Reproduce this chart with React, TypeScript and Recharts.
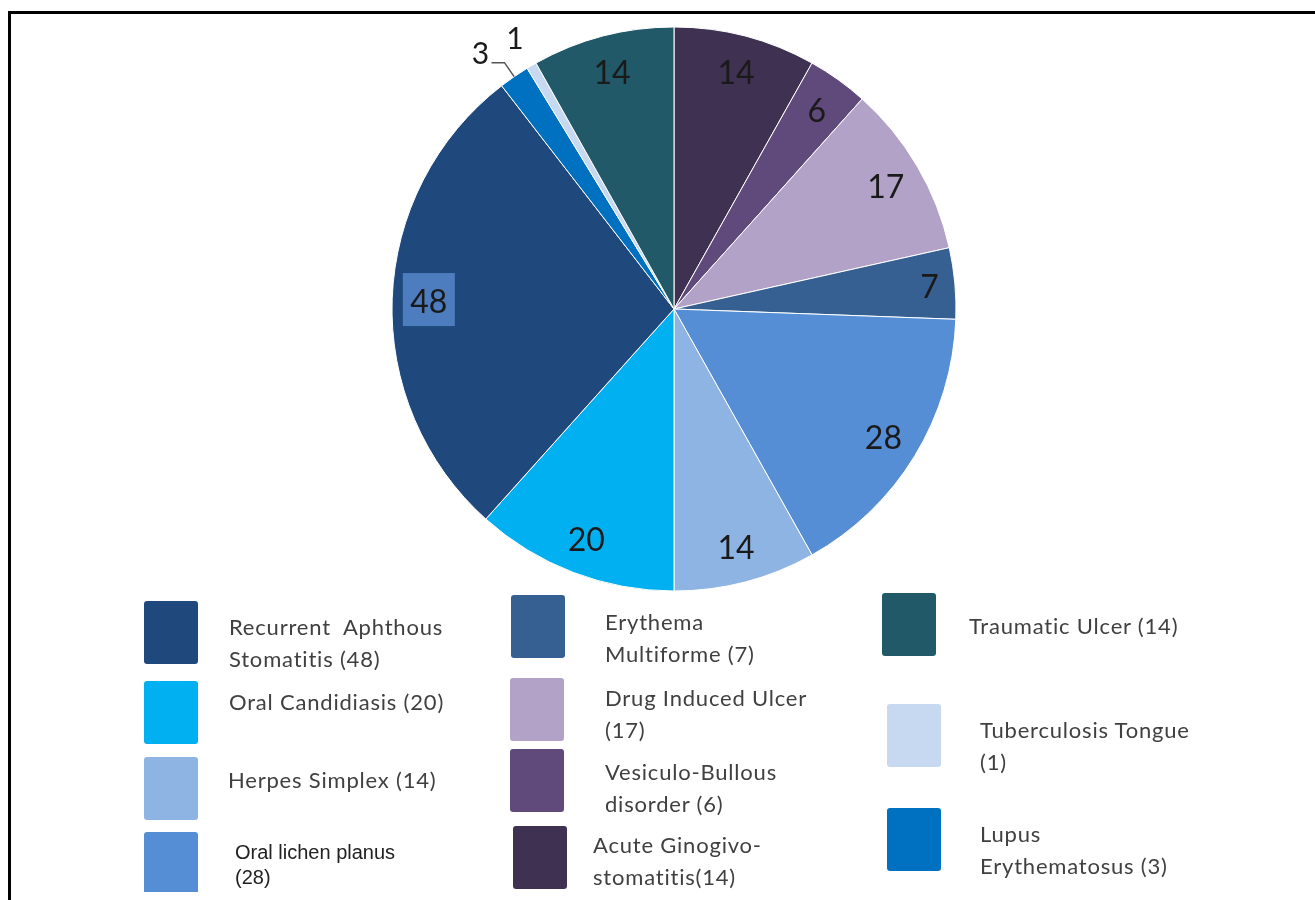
import { PieChart, Pie, Cell } from "recharts";

// slices in clockwise order starting at 12 o'clock
const categories = [
  "Acute Ginogivo-stomatitis",
  "Vesiculo-Bullous disorder",
  "Drug Induced Ulcer",
  "Erythema Multiforme",
  "Oral lichen planus",
  "Herpes Simplex",
  "Oral Candidiasis",
  "Recurrent Aphthous Stomatitis",
  "Lupus Erythematosus",
  "Tuberculosis Tongue",
  "Traumatic Ulcer",
];
const values = [14, 6, 17, 7, 28, 14, 20, 48, 3, 1, 14];

// legend text, {v} is replaced by the slice value
const legendLines = [
  ["Acute Ginogivo-", "stomatitis({v})"],
  ["Vesiculo-Bullous", "disorder ({v})"],
  ["Drug Induced Ulcer", "({v})"],
  ["Erythema", "Multiforme ({v})"],
  ["Oral lichen planus", "({v})"],
  ["Herpes Simplex ({v})"],
  ["Oral Candidiasis ({v})"],
  ["Recurrent  Aphthous", "Stomatitis ({v})"],
  ["Lupus", "Erythematosus ({v})"],
  ["Tuberculosis Tongue", "({v})"],
  ["Traumatic Ulcer ({v})"],
];

const colors = [
  "#3f3151",
  "#604a7b",
  "#b3a2c7",
  "#376092",
  "#558ed5",
  "#8eb4e3",
  "#00b0f0",
  "#1f497d",
  "#0070c0",
  "#c6d9f1",
  "#215968",
];

// legend placement (page coords): swatch x/y, text x / first line centre y
const legendPos = [
  { sx: 513, sy: 826, tx: 593, ty: 845 },
  { sx: 510, sy: 749, tx: 605, ty: 772 },
  { sx: 510, sy: 678, tx: 605, ty: 698 },
  { sx: 511, sy: 595, tx: 605, ty: 622 },
  { sx: 144, sy: 832, tx: 235, ty: 852 },
  { sx: 144, sy: 757, tx: 228, ty: 780 },
  { sx: 144, sy: 681, tx: 229, ty: 702 },
  { sx: 144, sy: 601, tx: 229, ty: 627 },
  { sx: 887, sy: 808, tx: 980, ty: 834 },
  { sx: 887, sy: 704, tx: 980, ty: 730 },
  { sx: 882, sy: 593, tx: 969, ty: 626 },
];

const data = categories.map((name, i) => ({ name, value: values[i] }));

const OFF = 8; // body margin
const CHART_MARGIN = 5;
const RAD = Math.PI / 180;

function polar(cx: number, cy: number, r: number, angle: number) {
  return { x: cx + r * Math.cos(-angle * RAD), y: cy + r * Math.sin(-angle * RAD) };
}

function renderLabel(props: any) {
  const { cx, cy, midAngle, outerRadius, index, value } = props;
  const text = (x: number, y: number, size: number) => (
    <text
      x={x}
      y={y}
      textAnchor="middle"
      dominantBaseline="central"
      fill="#1a1a1a"
      fontSize={size}
      fontFamily="Lato, sans-serif"
    >
      {value}
    </text>
  );

  // Lupus: outside with a short leader line
  if (index === 8) {
    const a = polar(cx, cy, outerRadius, midAngle);
    const b = polar(cx, cy, outerRadius + 17, midAngle);
    return (
      <g key={`lbl-${index}`}>
        <polyline
          points={`${a.x},${a.y} ${b.x},${b.y} ${b.x - 13},${b.y}`}
          fill="none"
          stroke="#555"
          strokeWidth={1.5}
        />
        {text(b.x - 24, b.y - 11, 30)}
      </g>
    );
  }
  // Tuberculosis: outside, no line
  if (index === 9) {
    const p = polar(cx, cy, outerRadius * 1.117, midAngle);
    return <g key={`lbl-${index}`}>{text(p.x, p.y, 30)}</g>;
  }

  const r = index === 3 ? outerRadius * 0.91 : outerRadius * 0.87;
  const p = polar(cx, cy, r, midAngle);
  return (
    <g key={`lbl-${index}`}>
      {index === 7 && (
        <rect x={p.x - 26} y={p.y - 27} width={52} height={53} fill="#4d7cbf" />
      )}
      {text(p.x, p.y, 32)}
    </g>
  );
}

export default function App() {
  return (
    <div style={{ position: "relative", width: 1299, height: 892, marginBottom: -8 }}>
      <div
        style={{
          position: "fixed",
          left: 8,
          top: 11,
          right: 0,
          bottom: 0,
          borderTop: "3px solid #000",
          borderLeft: "3px solid #000",
        }}
      />
      <div style={{ position: "absolute", left: 0, top: 0 }}>
        <PieChart width={1299} height={600}>
          <Pie
            data={data}
            dataKey="value"
            nameKey="name"
            cx={674 - OFF - CHART_MARGIN}
            cy={309 - OFF - CHART_MARGIN}
            outerRadius={282}
            startAngle={90}
            endAngle={-270}
            stroke="#ffffff"
            strokeWidth={1}
            label={renderLabel}
            labelLine={false}
            isAnimationActive={false}
          >
            {data.map((d, i) => (
              <Cell key={d.name} fill={colors[i]} />
            ))}
          </Pie>
        </PieChart>
      </div>
      {legendLines.map((lines, i) => {
        const pos = legendPos[i];
        const lichen = i === 4;
        const lh = lichen ? 25 : 32;
        return (
          <div key={categories[i]}>
            <div
              style={{
                position: "absolute",
                left: pos.sx - OFF,
                top: pos.sy - OFF,
                width: 54,
                height: 63,
                background: colors[i],
                borderRadius: 3,
              }}
            />
            <div
              style={{
                position: "absolute",
                left: pos.tx - OFF,
                top: pos.ty - OFF - lh / 2,
                fontFamily: lichen ? "'Liberation Sans', Arial, sans-serif" : "Lato, sans-serif",
                fontSize: lichen ? 20 : 22,
                letterSpacing: lichen ? 0 : 0.8,
                lineHeight: `${lh}px`,
                color: lichen ? "#222" : "#404040",
                whiteSpace: "pre",
              }}
            >
              {lines.map((t) => (
                <div key={t}>{t.replace("{v}", String(values[i]))}</div>
              ))}
            </div>
          </div>
        );
      })}
    </div>
  );
}
